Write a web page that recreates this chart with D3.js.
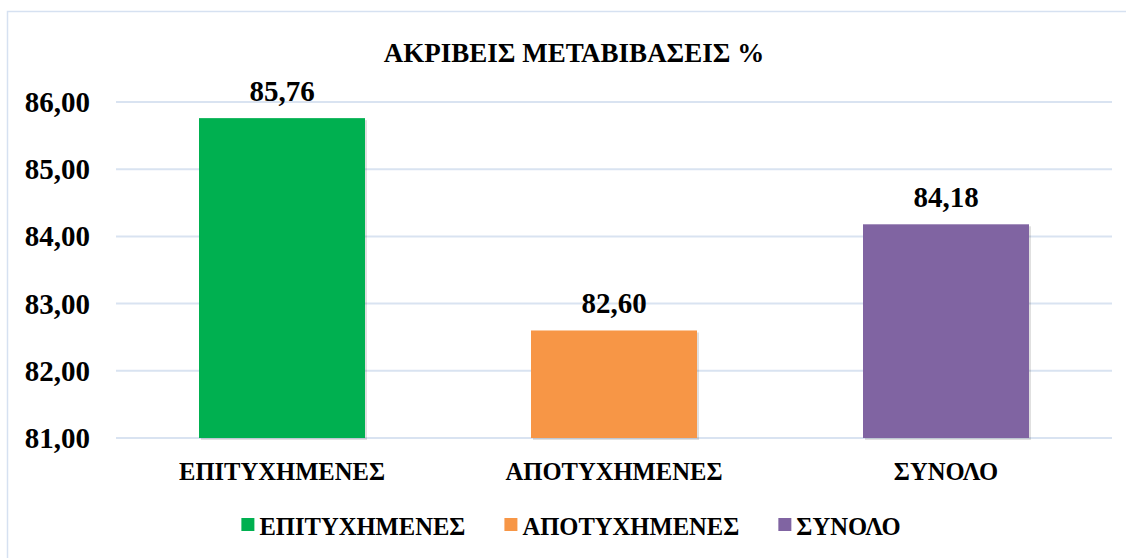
<!DOCTYPE html>
<html>
<head>
<meta charset="utf-8">
<script src="https://cdn.jsdelivr.net/npm/d3@7"></script>
</head>
<body style="margin:0">
<script>
// chart data
const categories = ["ΕΠΙΤΥΧΗΜΕΝΕΣ", "ΑΠΟΤΥΧΗΜΕΝΕΣ", "ΣΥΝΟΛΟ"];
const values = [85.76, 82.60, 84.18];
const colors = ["#00b050", "#f79646", "#8064a2"];
const yTicks = [81, 82, 83, 84, 85, 86];
const chartTitle = "ΑΚΡΙΒΕΙΣ ΜΕΤΑΒΙΒΑΣΕΙΣ %";

const width = 1126, height = 558;
const plot = {left: 116, right: 1112, top: 102, bottom: 438};

const fmt = v => v.toFixed(2).replace(".", ",");

const svg = d3.select("body").append("svg")
  .attr("width", width)
  .attr("height", height);

// outer chart border
svg.append("rect")
  .attr("x", 7.5).attr("y", 11.5)
  .attr("width", width + 20).attr("height", height + 20)
  .attr("fill", "none")
  .attr("stroke", "#d6e1f1")
  .attr("stroke-width", 1.5);

const x = d3.scaleBand()
  .domain(categories)
  .range([plot.left, plot.right])
  .paddingInner(0.5)
  .paddingOuter(0.25);

const y = d3.scaleLinear()
  .domain([81, 86])
  .range([plot.bottom, plot.top]);

// gridlines
svg.selectAll("line.grid")
  .data(yTicks)
  .join("line")
    .attr("class", "grid")
    .attr("x1", plot.left)
    .attr("x2", plot.right)
    .attr("y1", d => y(d))
    .attr("y2", d => y(d))
    .attr("stroke", "#d9e3f1")
    .attr("stroke-width", 2);

// soft shadow under the bars
svg.selectAll("rect.shade")
  .data(values)
  .join("rect")
    .attr("class", "shade")
    .attr("x", (d, i) => x(categories[i]) + 2)
    .attr("y", d => y(d) + 2)
    .attr("width", x.bandwidth())
    .attr("height", d => y(81) - y(d))
    .attr("fill", "#000")
    .attr("opacity", 0.12);

// bars
svg.selectAll("rect.bar")
  .data(values)
  .join("rect")
    .attr("class", "bar")
    .attr("x", (d, i) => x(categories[i]))
    .attr("y", d => y(d))
    .attr("width", x.bandwidth())
    .attr("height", d => y(81) - y(d))
    .attr("fill", (d, i) => colors[i]);

// all labels as one list of text specs, drawn in a single join
const labels = [];
yTicks.forEach(d => labels.push({t: fmt(d), x: 90, y: y(d) + 10, a: "end", s: 29}));
values.forEach((d, i) => labels.push({t: fmt(d), x: x(categories[i]) + x.bandwidth() / 2, y: y(d) - 17, a: "middle", s: 29}));
categories.forEach(d => labels.push({t: d, x: x(d) + x.bandwidth() / 2, y: 480, a: "middle", s: 24.6}));
labels.push({t: chartTitle, x: 574, y: 62, a: "middle", s: 27});

svg.selectAll("text.lbl")
  .data(labels)
  .join("text")
    .attr("class", "lbl")
    .attr("x", d => d.x)
    .attr("y", d => d.y)
    .attr("text-anchor", d => d.a)
    .attr("font-size", d => d.s)
    .attr("font-weight", "bold")
    .style("font-family", d => `"Times New Roman"`)
    .text(d => d.t);

// legend, centred under the plot
const legendGap = 39, swatch = 13;
const items = svg.selectAll("g.legend")
  .data(categories)
  .join("g")
    .attr("class", "legend");
items.append("rect")
  .attr("width", swatch).attr("height", swatch)
  .attr("y", 518)
  .attr("fill", (d, i) => colors[i]);
items.append("text")
  .attr("x", 18)
  .attr("y", 535)
  .attr("font-size", 24.6)
  .attr("font-weight", "bold")
  .style("font-family", d => `"Times New Roman"`)
  .text(d => d);

let offset = 0;
const positions = [];
items.each(function() {
  const w = d3.select(this).select("text").node().getComputedTextLength();
  positions.push(offset);
  offset += 18 + w + legendGap;
});
const start = 571 - (offset - legendGap) / 2;
items.attr("transform", (d, i) => `translate(${start + positions[i]},0)`);
</script>
</body>
</html>
